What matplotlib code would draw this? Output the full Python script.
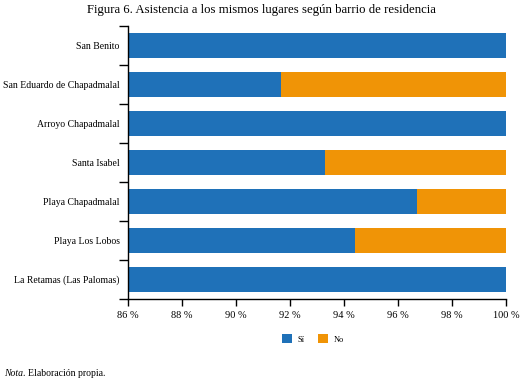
import numpy as np
import matplotlib
matplotlib.use("Agg")
import matplotlib.pyplot as plt
from matplotlib.ticker import FixedLocator, FuncFormatter

barrios = ["San Benito", "San Eduardo de Chapadmalal", "Arroyo Chapadmalal",
           "Santa Isabel", "Playa Chapadmalal", "Playa Los Lobos",
           "La Retamas (Las Palomas)"]
si = [100, 91.67, 100, 93.3, 96.7, 94.4, 100]
no = [100 - v for v in si]
xticks = [86, 88, 90, 92, 94, 96, 98, 100]

plt.rcParams['font.family'] = ['Liberation Serif', 'DejaVu Serif']

fig = plt.figure(figsize=(5.26, 3.80), dpi=100)
# axes box in pixels: x 128-506, y 26-299 (from top)
ax = fig.add_axes([128/526, 1 - 299/380, 378/526, 273/380])

y = np.arange(len(barrios))
c_si = '#1f71b8'
c_no = '#f09406'
ax.barh(y, si, height=0.64, color=c_si, label='Sí')
ax.barh(y, no, left=si, height=0.64, color=c_no, label='No')

ax.set_xlim(86, 100)
ax.set_ylim(len(barrios) - 0.5, -0.5)
ax.set_xticks(xticks)
ax.xaxis.set_major_formatter(FuncFormatter(lambda v, p: '%d %%' % v))
ax.set_yticks(y)
ax.set_yticklabels(barrios)
# tick marks sit between the categories
ax.yaxis.set_minor_locator(FixedLocator(np.arange(-0.5, len(barrios), 1)))
ax.tick_params(axis='y', which='major', length=0, pad=6, labelsize=7)
ax.tick_params(axis='y', which='minor', length=6.5, width=1, color='black')
ax.tick_params(axis='x', which='major', length=5, width=1, labelsize=7.5, pad=4)
for s in ['top', 'right']:
    ax.spines[s].set_visible(False)
for s in ['left', 'bottom']:
    ax.spines[s].set_color('black')
    ax.spines[s].set_linewidth(1)

fig.text(261/526, 1 - 10/380, 'Figura 6. Asistencia a los mismos lugares según barrio de residencia',
         ha='center', va='center', fontsize=9.2)

fig.legend(loc='center', bbox_to_anchor=(313/526, 1 - 339/380), ncol=2,
           frameon=False, fontsize=6, handlelength=1.2, handleheight=1.2,
           columnspacing=1.6, handletextpad=0.7)

# "Nota" in italics, rest upright right after it
nota = fig.text(4/526, 1 - 373/380, 'Nota', ha='left', va='center',
                fontsize=7, style='italic')
fig.canvas.draw()
bb = nota.get_window_extent(renderer=fig.canvas.get_renderer())
fig.text(bb.x1 / fig.bbox.width, 1 - 373/380, '. Elaboración propia.',
         ha='left', va='center', fontsize=7)

fig.savefig('out.png', dpi=100)
